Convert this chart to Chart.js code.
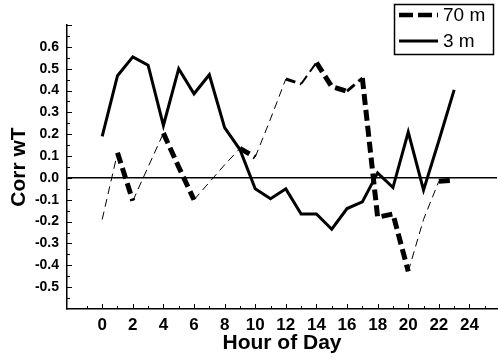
<!DOCTYPE html>
<html>
<head>
<meta charset="utf-8">
<script src="https://cdn.jsdelivr.net/npm/chart.js@4/dist/chart.umd.min.js"></script>
<style>
  html, body { margin: 0; padding: 0; background: #ffffff; }
  #wrap { width: 498px; height: 360px; position: relative; }
</style>
</head>
<body>
<div id="wrap"><canvas id="c" width="498" height="360"></canvas></div>
<script>
// ---- data ----
const hours = [0,1,2,3,4,5,6,7,8,9,10,11,12,13,14,15,16,17,18,19,20,21,22,23];
const corr70m = [-0.19, 0.115, -0.105, 0.05, 0.205, 0.05, -0.10, -0.02, 0.06, 0.135, 0.095, 0.27,
                 0.453, 0.43, 0.528, 0.418, 0.397, 0.457, -0.18, -0.165, -0.428, -0.19, -0.015, -0.01];
const corr3m = [0.19, 0.468, 0.554, 0.516, 0.24, 0.50, 0.385, 0.472, 0.23, 0.13, -0.05, -0.095,
                -0.05, -0.165, -0.165, -0.235, -0.14, -0.11, 0.023, -0.044, 0.21, -0.056, 0.17, 0.403];
const seriesLabels = ['70 m', '3 m'];
const xTickLabels = [0,2,4,6,8,10,12,14,16,18,20,22,24];
const yTickLabels = [-0.5,-0.4,-0.3,-0.2,-0.1,0.0,0.1,0.2,0.3,0.4,0.5,0.6];

// ---- styles (line weight of each 70 m segment) ----
const weight70 = [1,5,1,1,5,5,1,1,1,5,1,1,3,2,5,5,3,5,5,5,1,1,5];

const FONT = "'Liberation Sans', Arial, sans-serif";

const tickMarks = {
  id: 'tickMarks',
  afterDraw(chart) {
    const ctx = chart.ctx, xs = chart.scales.x, ys = chart.scales.y;
    const a = chart.chartArea;
    ctx.save();
    ctx.strokeStyle = '#000';
    ctx.lineWidth = 1;
    // y ticks (inward)
    for (let i = -12; i <= 14; i++) {
      const v = i * 0.05;
      const y = Math.round(ys.getPixelForValue(v)) + 0.5;
      if (y < a.top - 1 || y > a.bottom - 1) continue;
      const len = (i % 2 === 0) ? 5 : 3;
      ctx.beginPath(); ctx.moveTo(a.left, y); ctx.lineTo(a.left + len, y); ctx.stroke();
    }
    // x ticks (inward)
    for (let h = -1; h <= 25; h++) {
      const x = Math.round(xs.getPixelForValue(h)) + 0.5;
      const len = (h % 2 === 0) ? 5 : 3;
      ctx.beginPath(); ctx.moveTo(x, a.bottom); ctx.lineTo(x, a.bottom - len); ctx.stroke();
    }
    ctx.restore();
  }
};

const boxLegend = {
  id: 'boxLegend',
  afterDraw(chart) {
    const ctx = chart.ctx;
    const ds = chart.data.datasets;
    ctx.save();
    ctx.strokeStyle = '#000';
    ctx.lineWidth = 1.5;
    ctx.strokeRect(394.5, 4.5, 99, 50);
    const rows = [15, 41];
    ds.forEach((d, i) => {
      const y = rows[i];
      ctx.beginPath();
      ctx.lineWidth = i === 0 ? 4.5 : 3;
      ctx.setLineDash(i === 0 ? [14, 5] : []);
      ctx.moveTo(399, y); ctx.lineTo(438, y);
      ctx.stroke();
      ctx.setLineDash([]);
      ctx.fillStyle = '#000';
      ctx.font = "19px " + FONT;
      ctx.textBaseline = 'middle';
      ctx.textAlign = 'left';
      ctx.fillText(d.label, 443, y + 1);
    });
    ctx.restore();
  }
};

new Chart(document.getElementById('c'), {
  type: 'line',
  data: {
    datasets: [
      {
        label: seriesLabels[0],
        data: hours.map((h, i) => ({ x: h, y: corr70m[i] })),
        borderColor: '#000',
        borderWidth: 1,
        borderCapStyle: 'butt',
        pointRadius: 0,
        tension: 0,
        fill: false,
        segment: {
          borderWidth: c => weight70[c.p0DataIndex],
          borderDash: c => weight70[c.p0DataIndex] >= 4 ? [11, 5] : (weight70[c.p0DataIndex] >= 2 ? [10, 5] : [8, 5])
        }
      },
      {
        label: seriesLabels[1],
        data: hours.map((h, i) => ({ x: h, y: corr3m[i] })),
        borderColor: '#000',
        borderWidth: 3,
        pointRadius: 0,
        tension: 0,
        fill: false
      }
    ]
  },
  options: {
    responsive: false,
    animation: false,
    devicePixelRatio: 1,
    layout: { padding: { top: 25, right: 1, left: 0, bottom: 0 } },
    plugins: {
      legend: { display: false },
      tooltip: { enabled: false },
      title: { display: false }
    },
    scales: {
      x: {
        type: 'linear',
        min: -2.3,
        max: 25.8,
        afterFit: s => { s.height = 51; },
        afterBuildTicks: s => { s.ticks = xTickLabels.map(v => ({ value: v })); },
        grid: { display: false, drawTicks: false },
        border: { display: true, color: '#000', width: 1.5 },
        ticks: {
          color: '#000',
          padding: 6,
          maxRotation: 0,
          autoSkip: false,
          font: { family: FONT, size: 17, weight: 'bold' },
          callback: v => String(v)
        },
        title: {
          display: true,
          text: 'Hour of Day',
          color: '#000',
          font: { family: FONT, size: 21, weight: 'bold' },
          padding: { top: 0, bottom: 4 }
        }
      },
      y: {
        type: 'linear',
        min: -0.6,
        max: 0.7,
        afterFit: s => { s.width = 67; },
        afterBuildTicks: s => { s.ticks = yTickLabels.map(v => ({ value: v })); },
        grid: {
          display: true,
          drawTicks: false,
          drawOnChartArea: true,
          lineWidth: 1.5,
          color: c => (c.tick && Math.abs(c.tick.value) < 1e-9) ? '#000' : 'rgba(0,0,0,0)'
        },
        border: { display: true, color: '#000', width: 1.5 },
        ticks: {
          color: '#000',
          padding: 8,
          autoSkip: false,
          font: { family: FONT, size: 14, weight: 'bold' },
          callback: v => (Math.abs(v) < 1e-9 ? 0 : v).toFixed(1)
        },
        title: {
          display: true,
          text: 'Corr wT',
          color: '#000',
          font: { family: FONT, size: 21, weight: 'bold' },
          padding: { top: 7, bottom: 0 }
        }
      }
    }
  },
  plugins: [tickMarks, boxLegend]
});
</script>
</body>
</html>
